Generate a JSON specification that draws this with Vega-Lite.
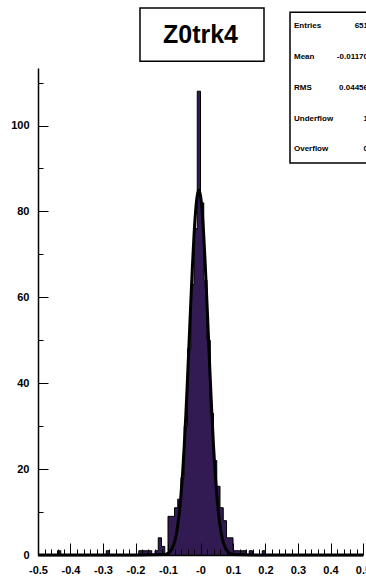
{
  "$schema": "https://vega.github.io/schema/vega-lite/v6.json",
  "width": 325,
  "height": 487,
  "autosize": {"type": "none"},
  "padding": {"left": 38, "top": 68, "right": 3, "bottom": 24},
  "background": "white",
  "config": {"view": {"stroke": null}, "font": "Liberation Sans"},
  "datasets": {
    "hist": [
      {"lo": -0.50, "hi": -0.49, "n": 0}, {"lo": -0.49, "hi": -0.48, "n": 0}, {"lo": -0.48, "hi": -0.47, "n": 0}, {"lo": -0.47, "hi": -0.46, "n": 0}, {"lo": -0.46, "hi": -0.45, "n": 0},
      {"lo": -0.45, "hi": -0.44, "n": 0}, {"lo": -0.44, "hi": -0.43, "n": 1}, {"lo": -0.43, "hi": -0.42, "n": 0}, {"lo": -0.42, "hi": -0.41, "n": 0}, {"lo": -0.41, "hi": -0.40, "n": 0},
      {"lo": -0.40, "hi": -0.39, "n": 0}, {"lo": -0.39, "hi": -0.38, "n": 0}, {"lo": -0.38, "hi": -0.37, "n": 0}, {"lo": -0.37, "hi": -0.36, "n": 0}, {"lo": -0.36, "hi": -0.35, "n": 0},
      {"lo": -0.35, "hi": -0.34, "n": 0}, {"lo": -0.34, "hi": -0.33, "n": 0}, {"lo": -0.33, "hi": -0.32, "n": 0}, {"lo": -0.32, "hi": -0.31, "n": 0}, {"lo": -0.31, "hi": -0.30, "n": 0},
      {"lo": -0.30, "hi": -0.29, "n": 0}, {"lo": -0.29, "hi": -0.28, "n": 1}, {"lo": -0.28, "hi": -0.27, "n": 0}, {"lo": -0.27, "hi": -0.26, "n": 0}, {"lo": -0.26, "hi": -0.25, "n": 0},
      {"lo": -0.25, "hi": -0.24, "n": 0}, {"lo": -0.24, "hi": -0.23, "n": 0}, {"lo": -0.23, "hi": -0.22, "n": 0}, {"lo": -0.22, "hi": -0.21, "n": 0}, {"lo": -0.21, "hi": -0.20, "n": 0},
      {"lo": -0.20, "hi": -0.19, "n": 0}, {"lo": -0.19, "hi": -0.18, "n": 1}, {"lo": -0.18, "hi": -0.17, "n": 1}, {"lo": -0.17, "hi": -0.16, "n": 1}, {"lo": -0.16, "hi": -0.15, "n": 1},
      {"lo": -0.15, "hi": -0.14, "n": 0}, {"lo": -0.14, "hi": -0.13, "n": 1}, {"lo": -0.13, "hi": -0.12, "n": 4}, {"lo": -0.12, "hi": -0.11, "n": 2}, {"lo": -0.11, "hi": -0.10, "n": 0},
      {"lo": -0.10, "hi": -0.09, "n": 9}, {"lo": -0.09, "hi": -0.08, "n": 9}, {"lo": -0.08, "hi": -0.07, "n": 11}, {"lo": -0.07, "hi": -0.06, "n": 13}, {"lo": -0.06, "hi": -0.05, "n": 18},
      {"lo": -0.05, "hi": -0.04, "n": 30}, {"lo": -0.04, "hi": -0.03, "n": 48}, {"lo": -0.03, "hi": -0.02, "n": 63}, {"lo": -0.02, "hi": -0.01, "n": 76}, {"lo": -0.01, "hi": 0.00, "n": 108},
      {"lo": 0.00, "hi": 0.01, "n": 82}, {"lo": 0.01, "hi": 0.02, "n": 64}, {"lo": 0.02, "hi": 0.03, "n": 50}, {"lo": 0.03, "hi": 0.04, "n": 33}, {"lo": 0.04, "hi": 0.05, "n": 22},
      {"lo": 0.05, "hi": 0.06, "n": 16}, {"lo": 0.06, "hi": 0.07, "n": 11}, {"lo": 0.07, "hi": 0.08, "n": 8}, {"lo": 0.08, "hi": 0.09, "n": 4}, {"lo": 0.09, "hi": 0.10, "n": 4},
      {"lo": 0.10, "hi": 0.11, "n": 1}, {"lo": 0.11, "hi": 0.12, "n": 1}, {"lo": 0.12, "hi": 0.13, "n": 1}, {"lo": 0.13, "hi": 0.14, "n": 1}, {"lo": 0.14, "hi": 0.15, "n": 0},
      {"lo": 0.15, "hi": 0.16, "n": 1}, {"lo": 0.16, "hi": 0.17, "n": 0}, {"lo": 0.17, "hi": 0.18, "n": 0}, {"lo": 0.18, "hi": 0.19, "n": 0}, {"lo": 0.19, "hi": 0.20, "n": 1},
      {"lo": 0.20, "hi": 0.21, "n": 0}, {"lo": 0.21, "hi": 0.22, "n": 0}, {"lo": 0.22, "hi": 0.23, "n": 0}, {"lo": 0.23, "hi": 0.24, "n": 0}, {"lo": 0.24, "hi": 0.25, "n": 0},
      {"lo": 0.25, "hi": 0.26, "n": 0}, {"lo": 0.26, "hi": 0.27, "n": 0}, {"lo": 0.27, "hi": 0.28, "n": 0}, {"lo": 0.28, "hi": 0.29, "n": 0}, {"lo": 0.29, "hi": 0.30, "n": 0},
      {"lo": 0.30, "hi": 0.31, "n": 0}, {"lo": 0.31, "hi": 0.32, "n": 0}, {"lo": 0.32, "hi": 0.33, "n": 0}, {"lo": 0.33, "hi": 0.34, "n": 0}, {"lo": 0.34, "hi": 0.35, "n": 0},
      {"lo": 0.35, "hi": 0.36, "n": 0}, {"lo": 0.36, "hi": 0.37, "n": 0}, {"lo": 0.37, "hi": 0.38, "n": 0}, {"lo": 0.38, "hi": 0.39, "n": 0}, {"lo": 0.39, "hi": 0.40, "n": 0},
      {"lo": 0.40, "hi": 0.41, "n": 0}, {"lo": 0.41, "hi": 0.42, "n": 0}, {"lo": 0.42, "hi": 0.43, "n": 0}, {"lo": 0.43, "hi": 0.44, "n": 0}, {"lo": 0.44, "hi": 0.45, "n": 0},
      {"lo": 0.45, "hi": 0.46, "n": 0}, {"lo": 0.46, "hi": 0.47, "n": 0}, {"lo": 0.47, "hi": 0.48, "n": 0}, {"lo": 0.48, "hi": 0.49, "n": 0}, {"lo": 0.49, "hi": 0.50, "n": 0}
    ],
    "fit": [
      {"x": -0.5, "g": 0}, {"x": -0.2, "g": 0}, {"x": -0.11, "g": 0.1}, {"x": -0.1, "g": 0.4}, {"x": -0.095, "g": 0.7},
      {"x": -0.09, "g": 1.2}, {"x": -0.085, "g": 1.9}, {"x": -0.08, "g": 3.0}, {"x": -0.075, "g": 4.6}, {"x": -0.07, "g": 6.9},
      {"x": -0.065, "g": 10.0}, {"x": -0.06, "g": 14.1}, {"x": -0.055, "g": 19.2}, {"x": -0.05, "g": 25.5}, {"x": -0.045, "g": 32.8},
      {"x": -0.04, "g": 41.0}, {"x": -0.035, "g": 49.8}, {"x": -0.03, "g": 58.6}, {"x": -0.025, "g": 67.0}, {"x": -0.02, "g": 74.4},
      {"x": -0.015, "g": 80.1}, {"x": -0.01, "g": 83.7}, {"x": -0.005, "g": 85.0}, {"x": 0.0, "g": 83.7}, {"x": 0.005, "g": 80.1},
      {"x": 0.01, "g": 74.4}, {"x": 0.015, "g": 67.0}, {"x": 0.02, "g": 58.6}, {"x": 0.025, "g": 49.8}, {"x": 0.03, "g": 41.0},
      {"x": 0.035, "g": 32.8}, {"x": 0.04, "g": 25.5}, {"x": 0.045, "g": 19.2}, {"x": 0.05, "g": 14.1}, {"x": 0.055, "g": 10.0},
      {"x": 0.06, "g": 6.9}, {"x": 0.065, "g": 4.6}, {"x": 0.07, "g": 3.0}, {"x": 0.075, "g": 1.9}, {"x": 0.08, "g": 1.2},
      {"x": 0.085, "g": 0.7}, {"x": 0.09, "g": 0.4}, {"x": 0.1, "g": 0.1}, {"x": 0.2, "g": 0}, {"x": 0.5, "g": 0}
    ],
    "stats": [
      {"labels": ["Entries", "Mean", "RMS", "Underflow", "Overflow"], "vals": ["651", "-0.01170", "0.04456", "1", "0"]}
    ]
  },
  "layer": [
    {
      "data": {"name": "hist"},
      "mark": {"type": "area", "interpolate": "step-after", "fill": "#321a52"},
      "encoding": {
        "x": {
          "field": "lo", "type": "quantitative",
          "scale": {"domain": [-0.5, 0.5], "nice": false, "zero": false},
          "axis": {
            "title": null, "orient": "bottom", "zindex": 1, "grid": false,
            "values": [-0.5, -0.4, -0.3, -0.2, -0.1, 0, 0.1, 0.2, 0.3, 0.4, 0.5],
            "labelExpr": "datum.value==0 ? '-0' : (datum.value<0 ? '-' : '') + format(abs(datum.value),'.1f')",
            "labelFont": "Liberation Sans", "labelFontSize": 11, "labelFontWeight": "bold", "labelColor": "black",
            "labelPadding": 21, "labelOverlap": false, "labelFlush": false, "labelBound": false,
            "domainColor": "black", "domainWidth": 1.5,
            "tickColor": "black", "tickWidth": 1, "tickSize": -12
          }
        },
        "y": {
          "field": "n", "type": "quantitative",
          "scale": {"domain": [0, 113.4], "nice": false},
          "axis": {
            "title": null, "orient": "left", "zindex": 1, "grid": false,
            "values": [0, 5, 10, 15, 20, 25, 30, 35, 40, 45, 50, 55, 60, 65, 70, 75, 80, 85, 90, 95, 100, 105, 110],
            "labelExpr": "datum.value % 20 == 0 ? datum.value : ''",
            "labelFont": "Liberation Sans", "labelFontSize": 11, "labelFontWeight": "bold", "labelColor": "black",
            "labelPadding": 19, "labelOverlap": false, "labelBound": false, "labelFlush": false,
            "domainColor": "black", "domainWidth": 1.5,
            "tickColor": "black", "tickWidth": 1,
            "tickSize": {"condition": {"test": "datum.value % 20 == 0", "value": -10}, "value": -5}
          }
        },
        "y2": {"datum": 0}
      }
    },
    {
      "data": {"name": "hist"},
      "mark": {"type": "line", "interpolate": "step-after", "color": "black", "strokeWidth": 1},
      "encoding": {
        "x": {
          "field": "lo", "type": "quantitative",
          "axis": {
            "title": null, "orient": "bottom", "zindex": 1, "grid": false, "labels": false, "domain": false,
            "values": [-0.48, -0.46, -0.44, -0.42, -0.38, -0.36, -0.34, -0.32, -0.28, -0.26, -0.24, -0.22, -0.18, -0.16, -0.14, -0.12, -0.08, -0.06, -0.04, -0.02, 0.02, 0.04, 0.06, 0.08, 0.12, 0.14, 0.16, 0.18, 0.22, 0.24, 0.26, 0.28, 0.32, 0.34, 0.36, 0.38, 0.42, 0.44, 0.46, 0.48],
            "tickColor": "black", "tickWidth": 1, "tickSize": -6
          }
        },
        "y": {"field": "n", "type": "quantitative"}
      }
    },
    {
      "data": {"name": "fit"},
      "mark": {"type": "line", "color": "black", "strokeWidth": 3, "interpolate": "monotone"},
      "encoding": {
        "x": {"field": "x", "type": "quantitative", "axis": null},
        "y": {"field": "g", "type": "quantitative"}
      }
    },
    {
      "data": {"values": [{}]},
      "mark": {"type": "rect", "fill": "white", "stroke": "black", "strokeWidth": 1.5},
      "encoding": {
        "x": {"datum": -0.1862, "type": "quantitative", "axis": null},
        "x2": {"datum": 0.1954},
        "y": {"datum": 127.4, "type": "quantitative"},
        "y2": {"datum": 115.0}
      }
    },
    {
      "data": {"values": [{"t": "Z0trk4"}]},
      "mark": {"type": "text", "font": "Liberation Sans", "fontWeight": "bold", "fontSize": 25, "align": "center", "baseline": "middle", "color": "black"},
      "encoding": {
        "x": {"datum": 0.0, "type": "quantitative", "axis": null},
        "y": {"datum": 121.2, "type": "quantitative"},
        "text": {"field": "t"}
      }
    },
    {
      "data": {"values": [{}]},
      "mark": {"type": "rect", "fill": "white", "stroke": "black", "strokeWidth": 1.5},
      "encoding": {
        "x": {"datum": 0.2754, "type": "quantitative", "axis": null},
        "x2": {"datum": 0.56},
        "y": {"datum": 126.4, "type": "quantitative"},
        "y2": {"datum": 91.3}
      }
    },
    {
      "data": {"name": "stats"},
      "mark": {"type": "text", "font": "Liberation Sans", "fontWeight": "bold", "fontSize": 8, "align": "left", "baseline": "top", "lineHeight": 30.75, "color": "black"},
      "encoding": {
        "x": {"datum": 0.2877, "type": "quantitative", "axis": null},
        "y": {"datum": 124.0, "type": "quantitative"},
        "text": {"field": "labels"}
      }
    },
    {
      "data": {"name": "stats"},
      "mark": {"type": "text", "font": "Liberation Sans", "fontWeight": "bold", "fontSize": 8, "align": "right", "baseline": "top", "lineHeight": 30.75, "color": "black"},
      "encoding": {
        "x": {"datum": 0.5154, "type": "quantitative", "axis": null},
        "y": {"datum": 124.0, "type": "quantitative"},
        "text": {"field": "vals"}
      }
    }
  ],
  "resolve": {"axis": {"x": "independent"}}
}
